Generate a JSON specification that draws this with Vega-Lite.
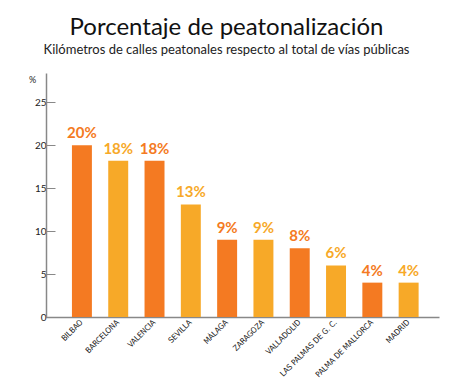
{
  "$schema": "https://vega.github.io/schema/vega-lite/v6.json",
  "width": 393,
  "height": 244,
  "autosize": "none",
  "padding": {"left": 46, "top": 73, "right": 11, "bottom": 75},
  "background": "white",
  "title": {
    "text": "Porcentaje de peatonalización",
    "subtitle": "Kilómetros de calles peatonales respecto al total de vías públicas",
    "anchor": "middle",
    "frame": "group",
    "dx": -16,
    "font": "Lato",
    "fontSize": 24,
    "fontWeight": "normal",
    "color": "#111111",
    "subtitleFont": "Lato",
    "subtitleFontSize": 13,
    "subtitleColor": "#222222",
    "subtitlePadding": 4,
    "offset": 16
  },
  "data": {
    "values": [
      {"ciudad": "BILBAO", "valor": 20, "etiqueta": "20%"},
      {"ciudad": "BARCELONA", "valor": 18.2, "etiqueta": "18%"},
      {"ciudad": "VALENCIA", "valor": 18.2, "etiqueta": "18%"},
      {"ciudad": "SEVILLA", "valor": 13.1, "etiqueta": "13%"},
      {"ciudad": "MÁLAGA", "valor": 9, "etiqueta": "9%"},
      {"ciudad": "ZARAGOZA", "valor": 9, "etiqueta": "9%"},
      {"ciudad": "VALLADOLID", "valor": 8, "etiqueta": "8%"},
      {"ciudad": "LAS PALMAS DE G. C.", "valor": 6, "etiqueta": "6%"},
      {"ciudad": "PALMA DE MALLORCA", "valor": 4, "etiqueta": "4%"},
      {"ciudad": "MADRID", "valor": 4, "etiqueta": "4%"}
    ]
  },
  "encoding": {
    "x": {
      "field": "ciudad",
      "type": "nominal",
      "sort": null,
      "scale": {"paddingInner": 0.45, "paddingOuter": 0.638, "align": 0.56},
      "axis": {
        "title": null,
        "labelAngle": -45,
        "labelAlign": "right",
        "labelBaseline": "middle",
        "labelFont": "DejaVu Sans Condensed",
        "labelFontSize": 8,
        "labelColor": "#222222",
        "labelPadding": 4,
        "ticks": false,
        "domainColor": "#888888",
        "domainWidth": 1.5
      }
    },
    "y": {
      "field": "valor",
      "type": "quantitative",
      "scale": {"domain": [0, 28.4], "nice": false},
      "axis": {
        "values": [0, 5, 10, 15, 20, 25],
        "title": "%",
        "titleAngle": 0,
        "titleX": -14,
        "titleY": 6,
        "titleAlign": "center",
        "titleBaseline": "middle",
        "titleFont": "Lato",
        "titleFontSize": 9,
        "titleFontWeight": "normal",
        "titleColor": "#222222",
        "labelFont": "Lato",
        "labelFontSize": 10,
        "labelColor": "#222222",
        "labelPadding": 9,
        "tickSize": -9,
        "tickColor": "#888888",
        "tickWidth": 1,
        "domainColor": "#888888",
        "domainWidth": 1.5,
        "grid": false
      }
    },
    "color": {
      "field": "ciudad",
      "type": "nominal",
      "sort": null,
      "legend": null,
      "scale": {
        "domain": ["BILBAO", "BARCELONA", "VALENCIA", "SEVILLA", "MÁLAGA", "ZARAGOZA", "VALLADOLID", "LAS PALMAS DE G. C.", "PALMA DE MALLORCA", "MADRID"],
        "range": ["#F47A22", "#F7A928", "#F47A22", "#F7A928", "#F47A22", "#F7A928", "#F47A22", "#F7A928", "#F47A22", "#F7A928"]
      }
    }
  },
  "layer": [
    {"mark": {"type": "bar"}},
    {
      "mark": {"type": "text", "dy": -12, "font": "Lato", "fontWeight": "bold", "fontSize": 15},
      "encoding": {"text": {"field": "etiqueta"}}
    }
  ],
  "config": {"view": {"stroke": null}}
}
